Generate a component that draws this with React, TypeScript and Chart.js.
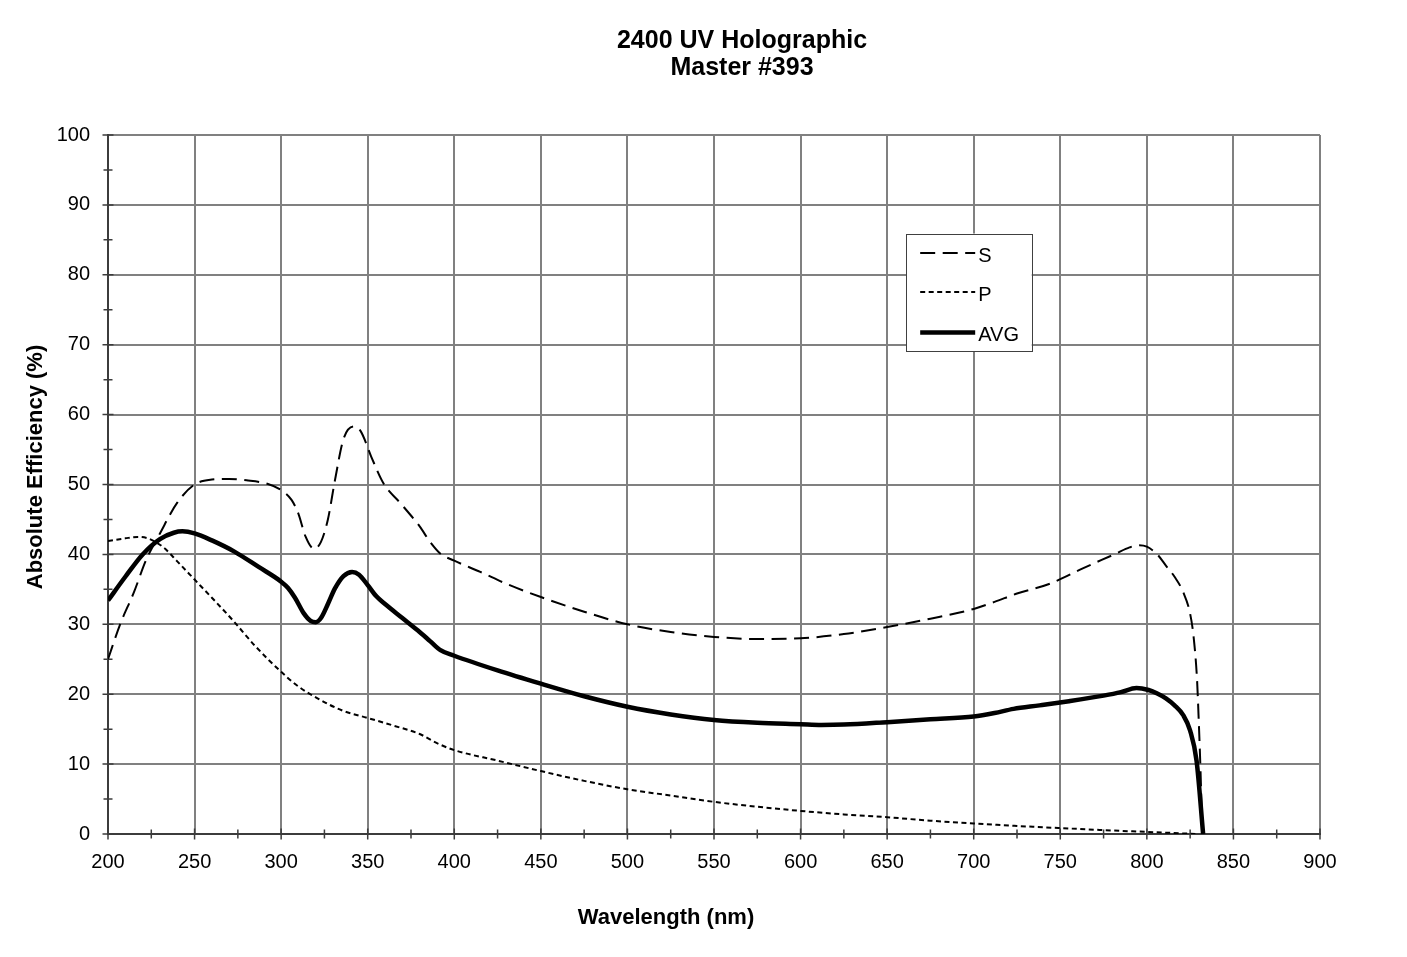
import React, { useEffect, useRef } from "react";
import { Chart, registerables } from "chart.js";

Chart.register(...registerables);

const FONT = '"Liberation Sans", Arial, Helvetica, sans-serif';

// ---- Texts ----
const chartTitle = ["2400 UV Holographic", "Master #393"];
const xAxisTitle = "Wavelength (nm)";
const yAxisTitle = "Absolute Efficiency (%)";
const seriesLabels = ["S", "P", "AVG"];

// ---- Axes ----
const xMin = 200;
const xMax = 900;
const xMajorStep = 50;
const xMinorStep = 25;
const yMin = 0;
const yMax = 100;
const yMajorStep = 10;
const yMinorStep = 5;

// ---- S polarisation ----
const sWavelength = [
  200, 207, 215, 222, 230, 240, 250, 260, 270, 280, 292, 300, 306, 310, 314, 319, 323, 327, 331, 336,
  342, 346, 352, 359, 369, 380, 386, 392, 400, 415, 430, 450, 475, 500, 525, 550, 575, 600, 625, 650,
  675, 700, 712, 725, 744, 763, 782, 790, 795, 800, 806, 811, 816, 821, 825, 827, 829, 830, 831, 832,
];
const sEfficiency = [
  25.0, 30.0, 34.6, 39.2, 43.0, 47.4, 50.0, 50.7, 50.8, 50.6, 50.1, 49.2, 47.8, 45.8, 42.6, 40.8, 41.8, 45.0, 50.5, 56.5,
  58.3, 57.6, 54.0, 50.2, 47.3, 44.0, 41.8, 40.1, 39.1, 37.5, 35.8, 33.9, 31.8, 30.0, 28.9, 28.2, 27.9, 28.0, 28.6, 29.6,
  30.8, 32.2, 33.2, 34.4, 35.8, 38.0, 40.1, 41.0, 41.3, 41.1, 40.0, 38.4, 36.8, 34.6, 31.5, 28.2, 22.0, 16.0, 9.0, 0.0,
];

// ---- P polarisation ----
const pWavelength = [
  200, 210, 217, 223, 228, 233, 240, 250, 260, 272, 285, 300, 310, 321, 335, 350, 365, 380, 390, 400,
  425, 450, 475, 500, 525, 550, 575, 600, 625, 650, 675, 700, 725, 750, 775, 800, 815, 828,
];
const pEfficiency = [
  41.9, 42.3, 42.5, 42.3, 41.7, 40.8, 39.0, 36.4, 33.8, 30.6, 26.9, 23.2, 21.1, 19.4, 17.7, 16.6, 15.5, 14.3, 13.0, 12.0,
  10.5, 9.0, 7.6, 6.4, 5.5, 4.6, 3.9, 3.3, 2.8, 2.4, 1.9, 1.5, 1.15, 0.85, 0.55, 0.3, 0.15, 0.0,
];

// ---- Average ----
const avgWavelength = [
  200, 210, 220, 230, 238, 243, 250, 260, 273, 287, 300, 304, 308, 313, 317, 320, 323, 327, 331, 336,
  341, 345, 350, 355, 360, 370, 379, 386, 392, 400, 425, 450, 475, 500, 525, 550, 575, 600, 612, 625,
  650, 675, 700, 712, 723, 738, 755, 775, 785, 794, 801, 806, 811, 816, 821, 825, 828.7, 832.5,
];
const avgEfficiency = [
  33.4, 36.8, 40.0, 42.2, 43.1, 43.3, 43.0, 42.0, 40.4, 38.2, 36.1, 35.2, 33.8, 31.6, 30.5, 30.3, 30.9, 32.9, 35.1, 36.9,
  37.5, 37.1, 35.6, 34.0, 32.9, 30.9, 29.1, 27.6, 26.3, 25.5, 23.4, 21.5, 19.7, 18.2, 17.1, 16.3, 15.9, 15.7, 15.6, 15.65,
  16.0, 16.4, 16.8, 17.3, 17.9, 18.4, 19.0, 19.8, 20.3, 20.9, 20.6, 20.1, 19.4, 18.4, 17.0, 14.8, 10.5, 0.0,
];

const toPoints = (xs: number[], ys: number[]) => xs.map((x, i) => ({ x, y: ys[i] }));

const decorPlugin = {
  id: "decor",
  beforeDatasetsDraw(chart: any) {
    const { ctx, chartArea, scales } = chart;
    const x = scales.x;
    const y = scales.y;
    ctx.save();
    ctx.strokeStyle = "#3c3c3c";
    ctx.lineWidth = 1.5;
    ctx.beginPath();
    for (let v = xMin; v <= xMax; v += xMinorStep) {
      const px = x.getPixelForValue(v);
      const len = v % xMajorStep === 0 ? 5.5 : 4.5;
      ctx.moveTo(px, chartArea.bottom - len);
      ctx.lineTo(px, chartArea.bottom + len);
    }
    for (let v = yMin; v <= yMax; v += yMinorStep) {
      const py = y.getPixelForValue(v);
      const len = v % yMajorStep === 0 ? 5.5 : 4.5;
      ctx.moveTo(chartArea.left - len, py);
      ctx.lineTo(chartArea.left + len, py);
    }
    ctx.stroke();
    ctx.restore();
  },
  afterDatasetsDraw(chart: any) {
    const { ctx, scales } = chart;
    const x = scales.x;
    const y = scales.y;
    // legend box
    const left = x.getPixelForValue(661);
    const right = x.getPixelForValue(733.5);
    const top = y.getPixelForValue(85.9);
    const bottom = y.getPixelForValue(69.1);
    ctx.save();
    ctx.fillStyle = "#ffffff";
    ctx.fillRect(left, top, right - left, bottom - top);
    ctx.strokeStyle = "#404040";
    ctx.lineWidth = 1;
    ctx.strokeRect(Math.round(left) + 0.5, Math.round(top) + 0.5, Math.round(right - left), Math.round(bottom - top));
    const rows = [19.5, 58.5, 99];
    chart.data.datasets.forEach((ds: any, i: number) => {
      const ry = top + rows[i];
      ctx.beginPath();
      ctx.strokeStyle = ds.borderColor;
      ctx.lineWidth = ds.borderWidth;
      ctx.setLineDash(ds.borderDash || []);
      ctx.lineCap = "butt";
      ctx.moveTo(left + 14, ry);
      ctx.lineTo(left + 69, ry);
      ctx.stroke();
      ctx.setLineDash([]);
      ctx.fillStyle = "#000000";
      ctx.font = `20px ${FONT}`;
      ctx.textAlign = "left";
      ctx.textBaseline = "middle";
      ctx.fillText(ds.label, left + 72, ry + 3);
    });
    ctx.restore();
  },
  afterDraw(chart: any) {
    const { ctx } = chart;
    ctx.save();
    ctx.fillStyle = "#000000";
    ctx.textAlign = "center";
    ctx.textBaseline = "middle";
    ctx.font = `bold 25px ${FONT}`;
    ctx.fillText(chartTitle[0], 742, 41);
    ctx.fillText(chartTitle[1], 742, 68);
    ctx.font = `bold 22px ${FONT}`;
    ctx.fillText(xAxisTitle, 666, 918);
    ctx.translate(36, 467);
    ctx.rotate(-Math.PI / 2);
    ctx.fillText(yAxisTitle, 0, 0);
    ctx.restore();
  },
};

export default function App() {
  const canvasRef = useRef<HTMLCanvasElement | null>(null);

  useEffect(() => {
    const canvas = canvasRef.current;
    if (!canvas) return;
    const chart = new Chart(canvas, {
      type: "line",
      data: {
        datasets: [
          {
            label: seriesLabels[0],
            data: toPoints(sWavelength, sEfficiency),
            borderColor: "#000000",
            borderWidth: 2,
            borderDash: [15, 7.5],
            pointRadius: 0,
            cubicInterpolationMode: "monotone",
            fill: false,
          },
          {
            label: seriesLabels[1],
            data: toPoints(pWavelength, pEfficiency),
            borderColor: "#000000",
            borderWidth: 2,
            borderDash: [5, 3.5],
            pointRadius: 0,
            cubicInterpolationMode: "monotone",
            fill: false,
          },
          {
            label: seriesLabels[2],
            data: toPoints(avgWavelength, avgEfficiency),
            borderColor: "#000000",
            borderWidth: 4.5,
            pointRadius: 0,
            cubicInterpolationMode: "monotone",
            fill: false,
          },
        ],
      },
      options: {
        animation: false,
        responsive: false,
        layout: { padding: { left: 0, top: 135, right: 87, bottom: 0 } },
        plugins: {
          legend: { display: false },
          title: { display: false },
          tooltip: { enabled: false },
        },
        scales: {
          x: {
            type: "linear",
            min: xMin,
            max: xMax,
            afterFit: (scale: any) => {
              scale.height = 123;
            },
            ticks: {
              stepSize: xMajorStep,
              color: "#000000",
              font: { family: FONT, size: 20 },
              padding: 16,
              maxRotation: 0,
            },
            grid: { color: "#808080", lineWidth: 2, drawTicks: false },
            border: { color: "#3c3c3c", width: 2 },
          },
          y: {
            type: "linear",
            min: yMin,
            max: yMax,
            afterFit: (scale: any) => {
              scale.width = 108;
            },
            ticks: {
              stepSize: yMajorStep,
              color: "#000000",
              font: { family: FONT, size: 20 },
              padding: 18,
            },
            grid: { color: "#808080", lineWidth: 2, drawTicks: false },
            border: { color: "#3c3c3c", width: 2 },
          },
        },
      },
      plugins: [decorPlugin],
    });
    return () => chart.destroy();
  }, []);

  return (
    <div style={{ position: "absolute", left: 0, top: 0, width: 1407, height: 957, background: "#ffffff" }}>
      <canvas ref={canvasRef} width={1407} height={957} style={{ display: "block" }} />
    </div>
  );
}
